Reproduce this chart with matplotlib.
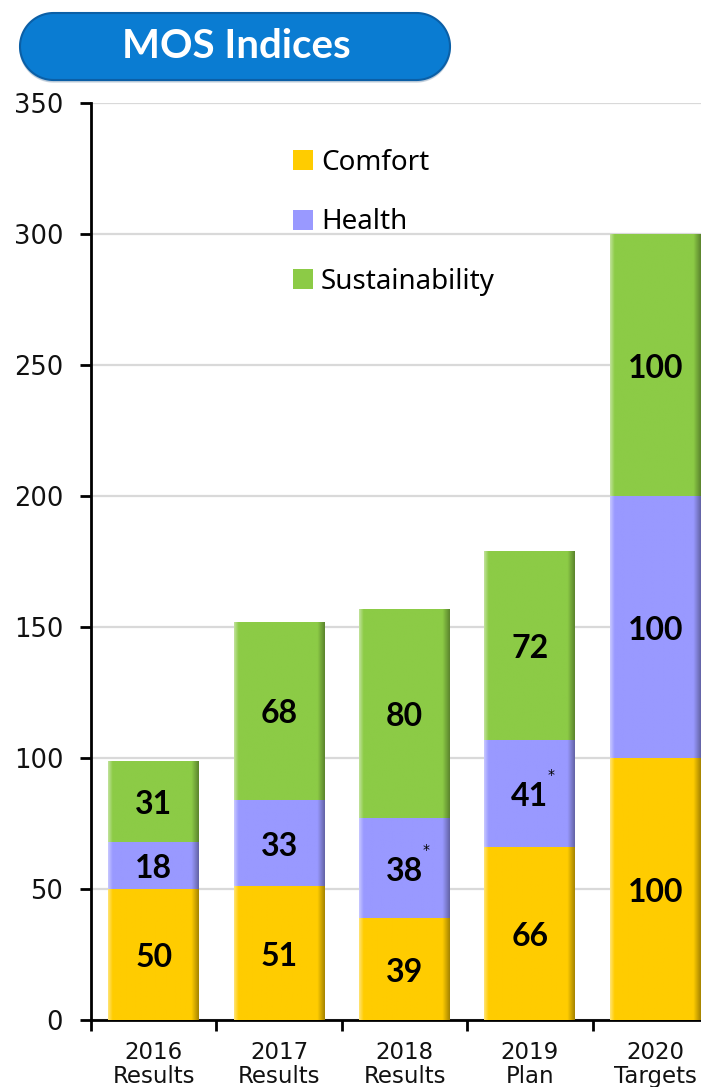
import numpy as np
import matplotlib.pyplot as plt
from matplotlib.patches import Patch
from matplotlib.colors import to_rgb

# MOS index values per year, stacked
years = ['2016\nResults', '2017\nResults', '2018\nResults', '2019\nPlan', '2020\nTargets']
comfort = [50, 51, 39, 66, 100]
health = [18, 33, 38, 41, 100]
sustainability = [31, 68, 80, 72, 100]
health_note = [False, False, True, True, False]

series = [('Comfort', comfort, '#FFCC00'),
          ('Health', health, '#9999FF'),
          ('Sustainability', sustainability, '#8CCB46')]

dpi = 100
W, H = 701, 1087
bar_w = 0.725
text_font = 'Noto Sans'
bold_font = 'Lato'


def shade(color, n=200):
    # horizontal shading: bright left rim, flat body, dark right rim
    base = np.array(to_rgb(color))
    f = np.linspace(0, 1, n)
    out = np.tile(base, (n, 1))
    light = np.clip((0.05 - f) / 0.05, 0, 1) * 0.45
    dark = np.clip((f - 0.92) / 0.08, 0, 1) * 0.35
    out = out + (1 - out) * light[:, None]
    out = out * (1 - dark[:, None])
    return out[None, :, :]


fig = plt.figure(figsize=(W / dpi, H / dpi), dpi=dpi)
ax = fig.add_axes([91 / W, 1 - 1020 / H, 627 / W, (1020 - 103) / H])

xs = np.arange(len(years))
bottom = np.zeros(len(years))
for name, vals, color in series:
    bars = ax.bar(xs, vals, bar_w, bottom=bottom, color=color, zorder=2, linewidth=0)
    for b in bars:
        x0, y0 = b.get_x(), b.get_y()
        im = ax.imshow(shade(color), extent=[x0, x0 + b.get_width(), y0, y0 + b.get_height()],
                       aspect='auto', zorder=3, interpolation='bilinear')
        im.set_clip_path(b)
    for i, v in enumerate(vals):
        ax.text(xs[i], bottom[i] + v / 2 - 1.2, str(v), ha='center', va='center',
                fontsize=23, fontweight='bold', family=bold_font, color='black', zorder=5)
        if name == 'Health' and health_note[i]:
            ax.text(xs[i] + 0.17, bottom[i] + v / 2 + 7, '*', ha='center', va='center',
                    fontsize=10, color='black', zorder=5)
    bottom += np.array(vals)

ax.set_xlim(-0.5, 4.5)
ax.set_ylim(0, 350)
ax.set_yticks(np.arange(0, 351, 50))
ax.yaxis.grid(True, color='#D9D9D9', linewidth=1.6, zorder=0)
ax.set_axisbelow(True)

ax.set_xticks(xs)
ax.set_xticklabels(years, fontsize=16.5, linespacing=1.08, color='#111111')
ax.tick_params(axis='x', which='major', length=0, pad=15)
ax.set_xticks(np.arange(-0.5, 5.0, 1.0), minor=True)
ax.tick_params(axis='x', which='minor', length=8, width=2, direction='out', color='black')
ax.tick_params(axis='y', length=8, width=2, labelsize=18.5, labelcolor='#111111', pad=12)

for s in ['top', 'right']:
    ax.spines[s].set_visible(False)
for s in ['left', 'bottom']:
    ax.spines[s].set_linewidth(2)
    ax.spines[s].set_color('black')

handles = [Patch(facecolor=c, edgecolor='none') for _, _, c in series]
ax.legend(handles, [n for n, _, _ in series], loc='upper left',
          bbox_to_anchor=(293 / W, 1 - 149 / H), bbox_transform=fig.transFigure,
          frameon=False, prop={'family': text_font, 'size': 20},
          handlelength=0.72, handleheight=0.72, handletextpad=0.28,
          labelspacing=1.13, borderpad=0, borderaxespad=0)

# title banner: pill shape in pixel units
tax = fig.add_axes([0, 1 - 90 / H, 470 / W, 90 / H])
tax.set_xlim(0, 470)
tax.set_ylim(0, 90)
tax.axis('off')
r = 33.5
cy = 10 + r
t = np.linspace(-np.pi / 2, np.pi / 2, 60)
px = np.concatenate([450 - r + r * np.cos(t), 20 + r - r * np.cos(t)])
py = np.concatenate([cy + r * np.sin(t), cy - r * np.sin(t)])
tax.fill(px, py - 2, color='#9DB3C8', alpha=0.5, zorder=1)
tax.fill(px, py, facecolor='#0A7CD2', edgecolor='#0B5FA6', linewidth=1.5, zorder=2)
tax.text(236, 44, 'MOS Indices', ha='center', va='center', color='white',
         fontsize=29, fontweight='bold', family=bold_font, zorder=3)

fig.savefig('out.png', dpi=dpi)
